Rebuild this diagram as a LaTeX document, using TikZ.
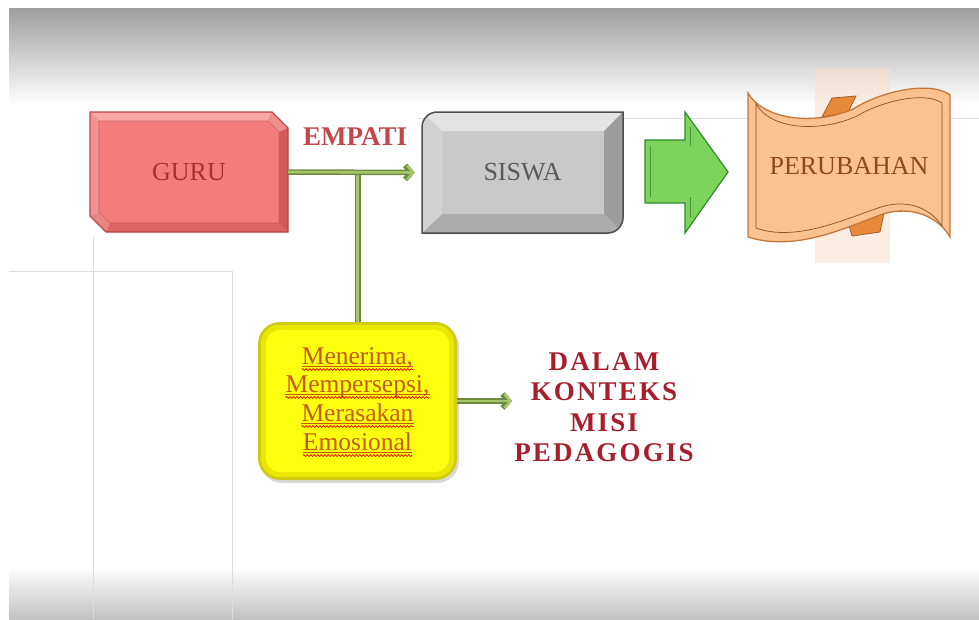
\documentclass[tikz,border=0pt]{standalone}
\usepackage{fontspec}
\setmainfont{Liberation Serif}
\usetikzlibrary{arrows.meta,backgrounds,shadows,decorations.pathmorphing,calc}
\definecolor{faint}{HTML}{DDDDDD}
\definecolor{guruFace}{HTML}{F47C7C}
\definecolor{guruTop}{HTML}{F8A6A6}
\definecolor{guruLeft}{HTML}{F39191}
\definecolor{guruRight}{HTML}{D45A5A}
\definecolor{guruBottom}{HTML}{DC6363}
\definecolor{guruEdge}{HTML}{B84848}
\definecolor{guruText}{HTML}{A83232}
\definecolor{sisFace}{HTML}{C9C9C9}
\definecolor{sisTop}{HTML}{E4E4E4}
\definecolor{sisLeft}{HTML}{D2D2D2}
\definecolor{sisRight}{HTML}{9C9C9C}
\definecolor{sisBottom}{HTML}{ABABAB}
\definecolor{sisEdge}{HTML}{4D4D4D}
\definecolor{sisText}{HTML}{5A5A5A}
\definecolor{connDark}{HTML}{6E8B3D}
\definecolor{connLight}{HTML}{A5C66B}
\definecolor{yOuter}{HTML}{CFCB10}
\definecolor{yMid}{HTML}{E9E600}
\definecolor{yInner}{HTML}{FFFF10}
\definecolor{yText}{HTML}{C65911}
\definecolor{empText}{HTML}{C4454A}
\definecolor{misiText}{HTML}{A91E2C}
\definecolor{arrFill}{HTML}{7DD35B}
\definecolor{arrEdge}{HTML}{2E8B2E}
\definecolor{scrFill}{HTML}{FAC191}
\definecolor{scrEdge}{HTML}{C4773A}
\definecolor{scrTab}{HTML}{E8893A}
\definecolor{scrGlow}{HTML}{FBE0CC}
\definecolor{scrText}{HTML}{8B4A1C}
\tikzset{
  lbl/.style={font=\fontsize{26}{30}\selectfont, inner sep=0pt},
  conn/.style={draw=connDark, line width=5.5pt, -{Straight Barb[length=6pt,width=14pt]},
    postaction={draw=connLight, line width=2.6pt, -{Straight Barb[length=6pt,width=14pt]}}},
  connline/.style={draw=connDark, line width=6pt, postaction={draw=connLight, line width=3pt}},
  yl/.style={font=\fontsize{25.5}{29}\selectfont, text=yText, anchor=base, inner sep=0pt},
  faintline/.style={draw=faint, line width=0.8pt},
}
\begin{document}
\begin{tikzpicture}[x=1pt,y=-1pt]
\useasboundingbox (0,0) rectangle (979,619);
\fill[white] (0,0) rectangle (979,619);
\shade[top color=black!38, middle color=black!9, bottom color=white] (9,8) rectangle (979,104);
\shade[top color=white, middle color=black!5, bottom color=black!24] (9,566) rectangle (979,619);
% faint background lines
\draw[faintline] (418,118) -- (979,118);
\draw[faintline] (93,236) -- (93,619);
\draw[faintline] (9,271) -- (232,271) -- (232,619);

% GURU box
\fill[guruFace] (90,112) -- (272,112) -- (288,128) -- (288,232) -- (106,232) -- (90,216) -- cycle;
\fill[guruTop] (90,112) -- (272,112) -- (268,121) -- (99,121) -- cycle;
\fill[guruTop!70!guruRight] (272,112) -- (288,128) -- (279,132) -- (268,121) -- cycle;
\fill[guruRight] (288,128) -- (288,232) -- (279,223) -- (279,132) -- cycle;
\fill[guruBottom] (288,232) -- (106,232) -- (110,223) -- (279,223) -- cycle;
\fill[guruLeft!70!guruBottom] (106,232) -- (90,216) -- (99,212) -- (110,223) -- cycle;
\fill[guruLeft] (90,216) -- (90,112) -- (99,121) -- (99,212) -- cycle;
\draw[guruEdge!60!guruFace, line width=0.6pt] (99,121) -- (268,121) -- (279,132) -- (279,223) -- (110,223) -- (99,212) -- cycle;
\draw[guruEdge, line width=1.2pt] (90,112) -- (272,112) -- (288,128) -- (288,232) -- (106,232) -- (90,216) -- cycle;
\node[lbl, text=guruText, minimum width=198pt, minimum height=120pt] (guru) at (189,172) {GURU};

% SISWA box
\begin{scope}
\clip (437,112) -- (623,112) -- (623,218) .. controls (623,226) and (616,233) .. (608,233) -- (422,233) -- (422,127) .. controls (422,119) and (429,112) .. (437,112) -- cycle;
\fill[sisFace] (422,112) rectangle (623,233);
\fill[sisTop] (422,112) -- (623,112) -- (604,131) -- (442,131) -- cycle;
\fill[sisRight] (623,112) -- (623,233) -- (604,214) -- (604,131) -- cycle;
\fill[sisBottom] (623,233) -- (422,233) -- (442,214) -- (604,214) -- cycle;
\fill[sisLeft] (422,233) -- (422,112) -- (442,131) -- (442,214) -- cycle;
\end{scope}
\draw[sisEdge, line width=1.5pt] (437,112) -- (623,112) -- (623,218) .. controls (623,226) and (616,233) .. (608,233) -- (422,233) -- (422,127) .. controls (422,119) and (429,112) .. (437,112) -- cycle;
\node[lbl, text=sisText, minimum width=201pt, minimum height=121pt] (siswa) at (522.5,172.5) {SISWA};

% green block arrow
\draw[fill=arrFill, draw=arrEdge, line width=1.2pt, line join=miter] (645,140) -- (685,140) -- (685,112) -- (728,172) -- (685,233) -- (685,203) -- (645,203) -- cycle;
\draw[arrEdge!80!black, line width=0.6pt, opacity=0.6] (650,146) -- (650,197);
\draw[arrEdge!80!black, line width=0.6pt, opacity=0.6] (690,127) -- (690,146);
\draw[arrEdge!80!black, line width=0.6pt, opacity=0.6] (690,197) -- (690,218);

% PERUBAHAN scroll
\fill[scrGlow, opacity=0.55] (815,68) rectangle (890,263);
\draw[fill=scrTab, draw=scrEdge!80!black, line width=0.8pt] (822,117) -- (832,98) -- (856,96) -- (848,112) -- cycle;
\draw[fill=scrTab, draw=scrEdge!80!black, line width=0.8pt] (848,222) -- (884,213) -- (880,232) -- (852,236) -- cycle;
\draw[fill=scrFill, draw=scrEdge, line width=1.3pt] (748,93) .. controls (765,122) and (820,125) .. (855,108) .. controls (880,92) and (930,80) .. (950,95) -- (950,237) .. controls (935,212) and (905,206) .. (880,215) .. controls (845,228) and (795,252) .. (748,237) -- cycle;
\draw[scrEdge!70!black, line width=0.7pt] (756,104) .. controls (772,131) and (822,132) .. (857,116) .. controls (882,101) and (925,91) .. (942,103) -- (942,226) .. controls (928,205) and (903,199) .. (878,208) .. controls (843,220) and (795,242) .. (756,228) -- cycle;
\node[lbl, text=scrText] (perub) at (849,166) {PERUBAHAN};

% EMPATI label
\node[font=\fontsize{27}{30}\selectfont\bfseries, text=empText, inner sep=0pt] (empati) at (355,137) {EMPATI};

% yellow box
\node[draw=none, fill=yOuter, rounded corners=22pt, minimum width=199pt, minimum height=158pt,
      drop shadow={shadow xshift=2pt, shadow yshift=-3pt, opacity=0.3}] (yel) at (357.5,401) {};
\fill[yMid, rounded corners=19pt] ($(yel.north west)+(3,3)$) rectangle ($(yel.south east)+(-3,-3)$);
\fill[yInner, rounded corners=15pt] ($(yel.north west)+(8,8)$) rectangle ($(yel.south east)+(-8,-8)$);
\node[yl] (m1) at (357.5,364) {Menerima,};
\node[yl] (m2) at (357.5,392) {Mempersepsi,};
\node[yl] (m3) at (357.5,421) {Merasakan};
\node[yl] (m4) at (357.5,450) {Emosional};
\foreach \n in {m1,m2,m3,m4} {
  \draw[yText, line width=0.9pt] ([yshift=-2.5pt]\n.base west) -- ([yshift=-2.5pt]\n.base east);
  \draw[red!85!black, line width=0.7pt, decorate, decoration={snake,amplitude=0.9pt,segment length=3.5pt}] ([yshift=-5.5pt]\n.base west) -- ([yshift=-5.5pt]\n.base east);
}

% DALAM KONTEKS label
\node[font=\fontsize{27}{30.5}\selectfont\bfseries\addfontfeature{LetterSpace=8}, text=misiText, align=center, inner sep=0pt] (dalam) at (604,407) {DALAM\\KONTEKS\\MISI\\PEDAGOGIS};

% connectors
\draw[connline] (guru.east -| yel.north) -- (yel.north);
\draw[conn, shorten >=7pt] (guru.east) -- (siswa.west);
\draw[conn, shorten >=2pt] (yel.east) -- (yel.east -| dalam.west);
\end{tikzpicture}
\end{document}
